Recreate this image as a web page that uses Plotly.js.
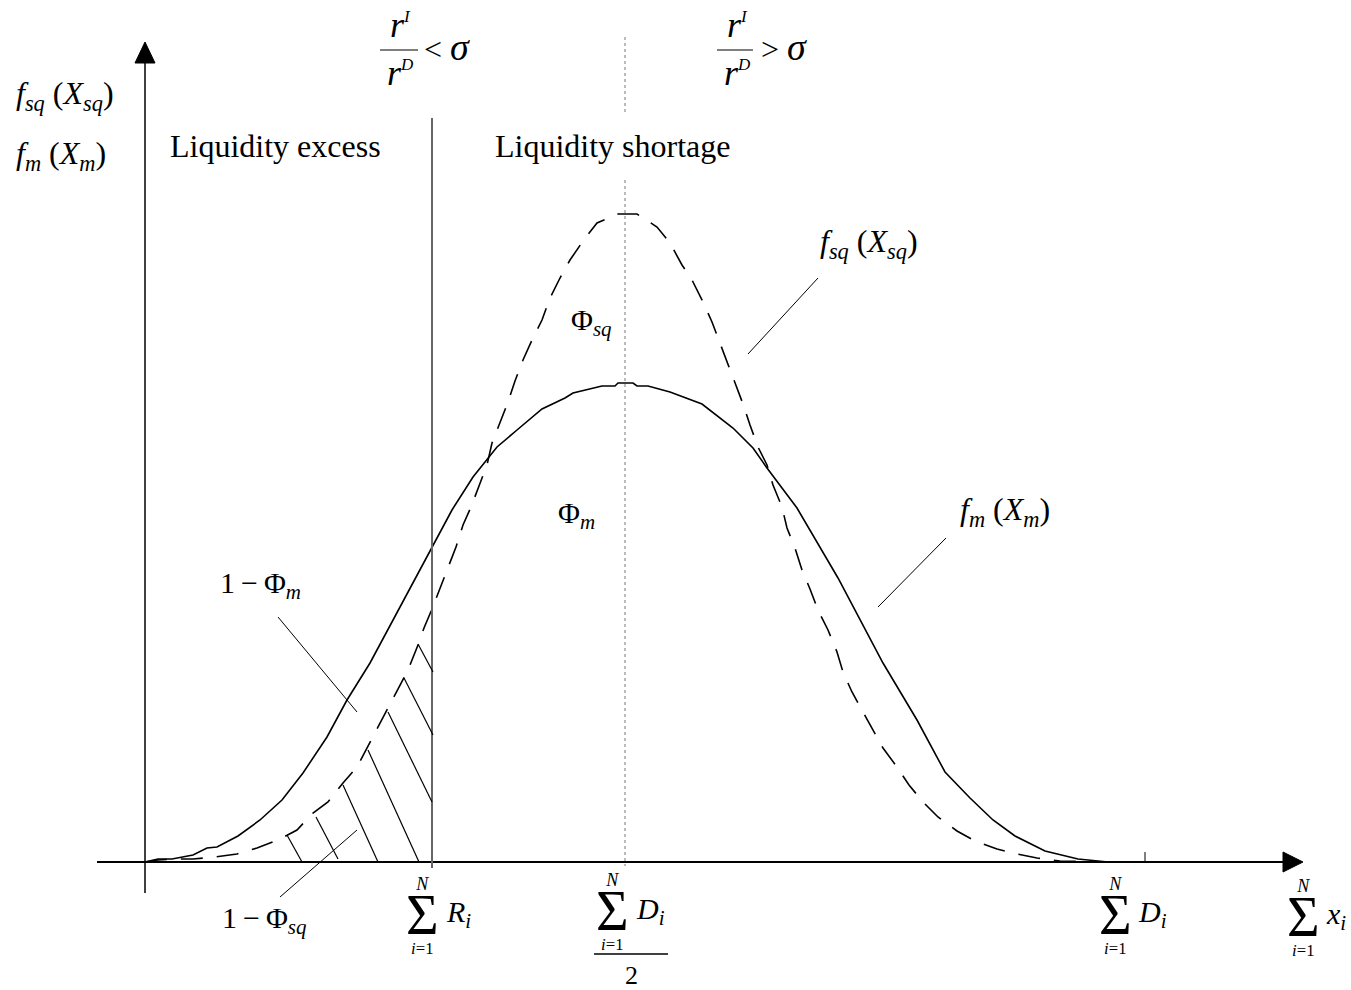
<!DOCTYPE html>
<html>
<head>
<meta charset="utf-8">
<script src="https://cdn.plot.ly/plotly-3.0.1.min.js"></script>
<style>html,body{margin:0;padding:0;background:#fff;}#chart{width:1351px;height:990px;}</style>
</head>
<body>
<div id="chart"></div>
<script>
// ---- data (x: distance from the origin along the axis, y: density height above the axis) ----
const mixedX = [0,13,27,48,62,72,93,115,137,158,182,202,225,255,287,307,328,352,372,397,420,428,457,470,473,488,492,503,525,557,588,608,622,652,693,738,772,800,825,848,870,900,933,963];
const mixedY = [0,3,3,7,14,15,26,42,62,89,125,162,199,255,314,352,385,415,432,453,464,469,476,476,479,479,476,476,470,458,434,414,394,354,284,199,142,90,64,42,26,11,3,0];

const sqX = [0,13,30,48,70,92,112,133,152,168,183,198,212,222,232,243,253,263,273,279,287,295,303,311,318,326,334,342,347,355,363,370,378,387,397,405,415,425,438,452,473,492,512,525,537,547,558,567,575,582,590,598,605,613,622,628,637,642,650,657,665,673,683,692,698,707,718,728,738,752,764,778,793,812,830,852,872,892,915,955];
const sqY = [0,2,3,3,5,8,14,22,32,49,60,79,95,114,134,154,174,192,217,234,253,274,295,315,337,355,376,397,419,439,460,481,502,522,542,564,584,602,621,639,648,648,635,619,597,582,560,540,519,500,479,458,437,415,397,377,355,334,314,292,273,252,232,210,190,170,150,132,114,95,77,60,45,31,21,13,8,4,1,0];

// key positions on the horizontal axis
const reservesX = 287;     // sum of R_i
const halfDepositsX = 480; // sum of D_i / 2
const depositsX = 1000;    // sum of D_i

// ---- helpers: page pixels -> axis coordinates ----
const OX = 145, OY = 862;
const X = px => px - OX;
const Y = py => OY - py;

const FONT = "Liberation Serif";
const shapes = [];
const ann = [];

function seg(x0, y0, x1, y1, color, width, dash) {
  shapes.push({type: 'line', xref: 'x', yref: 'y', x0: X(x0), y0: Y(y0), x1: X(x1), y1: Y(y1),
    line: {color: color || '#000', width: width || 1, dash: dash || 'solid'}});
}
function tri(pts) {
  const p = 'M' + pts.map(q => X(q[0]) + ',' + Y(q[1])).join(' L') + ' Z';
  shapes.push({type: 'path', xref: 'x', yref: 'y', path: p, fillcolor: '#000', line: {color: '#000', width: 1}});
}
function txt(text, px, py, size, xanchor, opts) {
  ann.push(Object.assign({text: text, x: X(px), y: Y(py), xref: 'x', yref: 'y', showarrow: false,
    xanchor: xanchor || 'left', yanchor: 'middle', font: {family: FONT, size: size, color: '#000'}}, opts || {}));
}
const dens = s => '<i>f</i><sub><i>' + s + '</i></sub> (<i>X</i><sub><i>' + s + '</i></sub>)';

// axes
seg(OX, 893, OX, 60, '#000', 1.5);
tri([[OX, 42], [OX - 10, 63], [OX + 10, 63]]);
seg(97, OY, 1285, OY, '#000', 2);
tri([[1303, OY], [1283, 852], [1283, 872]]);
seg(OX + depositsX, 852, OX + depositsX, OY, '#000', 1);

// reserve line and the middle dotted line
seg(OX + reservesX, 118, OX + reservesX, 868, '#666', 2);
seg(OX + halfDepositsX, 37, OX + halfDepositsX, 112, '#777', 1, 'dot');
seg(OX + halfDepositsX, 180, OX + halfDepositsX, 866, '#777', 1, 'dot');

// hatching of 1 - Phi_sq
[[418,644,433,672],[404,678,433,735],[388,712,432,802],[368,750,419,862],[343,785,378,862],[316,817,338,859],[287,835,302,862]]
  .forEach(h => seg(h[0], h[1], h[2], h[3], '#000', 1.2));

// leader lines
seg(278, 617, 357, 712, '#000', 1);
seg(280, 897, 357, 830, '#000', 1);
seg(818, 278, 748, 354, '#000', 1);
seg(946, 538, 878, 607, '#000', 1);

// y-axis labels
txt(dens('sq'), 14, 95, 32);
txt(dens('m'), 14, 155, 32);

// region labels
txt('Liquidity excess', 168, 146, 32);
txt('Liquidity shortage', 493, 146, 32);

// fractions
function frac(cx, bar0, bar1, rel, relX, sigX) {
  txt('<i>r</i><sup><span style="font-size:17px"><i>I</i></span></sup>', cx, 25, 36, 'center');
  seg(bar0, 50, bar1, 50, '#000', 1.2);
  txt('<i>r</i><sup><span style="font-size:17px"><i>D</i></span></sup>', cx, 73, 36, 'center');
  txt(rel, relX, 49, 32, 'left');
  txt('<i>σ</i>', sigX, 47, 38, 'left');
}
frac(400, 380, 418, '&lt;', 422, 448);
frac(737, 717, 753, '&gt;', 759, 785);

// area labels
txt('Φ<sub><i>sq</i></sub>', 569, 322, 30);
txt('Φ<sub><i>m</i></sub>', 556, 515, 30);
txt('1\u2009−\u2009Φ<sub><i>m</i></sub>', 218, 585, 30);
txt('1\u2009−\u2009Φ<sub><i>sq</i></sub>', 220, 920, 30);

// curve labels
txt(dens('sq'), 818, 243, 32);
txt(dens('m'), 958, 511, 32);

// summation labels on the horizontal axis (limits, sign and index in one stacked text)
function sum(cx, cy, term, termX, termY) {
  const stack = '<span style="font-size:18px"><i>N</i></span><br>' +
                '<span style="font-size:56px">Σ</span><br>' +
                '<sup><sup><i>i</i>=1</sup></sup>';
  txt(stack, cx, cy, 34, 'center');
  txt(term, termX, termY, 30, 'left');
}
sum(OX + reservesX - 10, 916, '<i>R</i><sub><i>i</i></sub>', 444, 914);
sum(OX + halfDepositsX - 13, 912, '<i>D</i><sub><i>i</i></sub>', 634, 911);
seg(594, 954, 668, 954, '#000', 1.5);
txt('2', 631, 975, 26, 'center');
sum(OX + depositsX - 30, 916, '<i>D</i><sub><i>i</i></sub>', 1136, 914);
sum(1303, 918, '<i>x</i><sub><i>i</i></sub>', 1324, 916);

const traces = [
  {x: mixedX, y: mixedY, type: 'scatter', mode: 'lines', name: 'f_m(X_m)',
   line: {color: '#000', width: 1.6}, hoverinfo: 'skip'},
  {x: sqX, y: sqY, type: 'scatter', mode: 'lines', name: 'f_sq(X_sq)',
   line: {color: '#000', width: 1.6, dash: '22px,14px'}, hoverinfo: 'skip'}
];

const layout = {
  width: 1351, height: 990,
  margin: {l: 0, r: 0, t: 0, b: 0, pad: 0},
  paper_bgcolor: '#fff', plot_bgcolor: '#fff',
  showlegend: false,
  xaxis: {range: [X(0), X(1351)], visible: false, fixedrange: true},
  yaxis: {range: [Y(990), Y(0)], visible: false, fixedrange: true},
  shapes: shapes,
  annotations: ann
};

Plotly.newPlot('chart', traces, layout, {staticPlot: true, displayModeBar: false});
</script>
</body>
</html>
